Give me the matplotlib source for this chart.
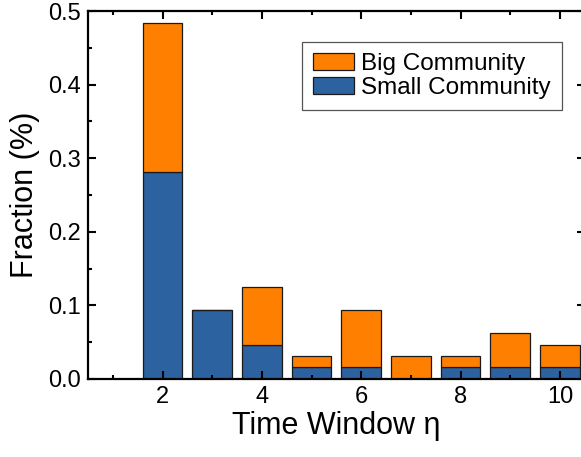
import numpy as np
import matplotlib
matplotlib.use("Agg")
from matplotlib import pyplot as plt
from matplotlib.ticker import MultipleLocator

plt.rcParams['font.family'] = ['Liberation Sans', 'DejaVu Sans']

# Fraction per time window, split by community size
window = [2, 3, 4, 5, 6, 7, 8, 9, 10]
small  = [0.28125, 0.09375, 0.046875, 0.015625, 0.015625, 0.0, 0.015625, 0.015625, 0.015625]
big    = [0.203125, 0.0, 0.078125, 0.015625, 0.078125, 0.03125, 0.015625, 0.046875, 0.03125]

c_big   = '#ff8000'
c_small = '#2c62a0'

fig = plt.figure(figsize=(5.81, 4.57), dpi=100)
ax = fig.add_axes([0.1515, 0.1707, 0.855, 0.805])

ax.bar(window, small, width=0.8, color=c_small, edgecolor='#1a1a1a', linewidth=0.9, label='Small Community')
ax.bar(window, big, width=0.8, bottom=small, color=c_big, edgecolor='#1a1a1a', linewidth=0.9, label='Big Community')

ax.set_xlim(0.5, 10.5)
ax.set_ylim(0, 0.5)
ax.xaxis.set_major_locator(MultipleLocator(2))
ax.xaxis.set_minor_locator(MultipleLocator(1))
ax.yaxis.set_major_locator(MultipleLocator(0.1))
ax.yaxis.set_minor_locator(MultipleLocator(0.05))
ax.yaxis.set_major_formatter(matplotlib.ticker.FormatStrFormatter('%.1f'))

ax.tick_params(which='both', direction='in', top=True, right=True, width=1.5, labelsize=17)
ax.tick_params(which='major', length=6, pad=5)
ax.tick_params(which='minor', length=3)
for s in ax.spines.values():
    s.set_linewidth(1.6)

ax.set_xlabel('Time Window η', fontsize=22, labelpad=2)
ax.set_ylabel('Fraction (%)', fontsize=22, labelpad=6)

h, l = ax.get_legend_handles_labels()
leg = ax.legend(h[::-1], l[::-1], loc='upper right', bbox_to_anchor=(0.954, 0.916),
                borderaxespad=0, fontsize=17.5, fancybox=False, edgecolor='#555555', framealpha=1,
                handlelength=1.7, handleheight=0.7, handletextpad=0.3,
                labelspacing=0.1, borderpad=0.45)
leg.get_frame().set_linewidth(0.9)

plt.savefig("out.png", dpi=100)
